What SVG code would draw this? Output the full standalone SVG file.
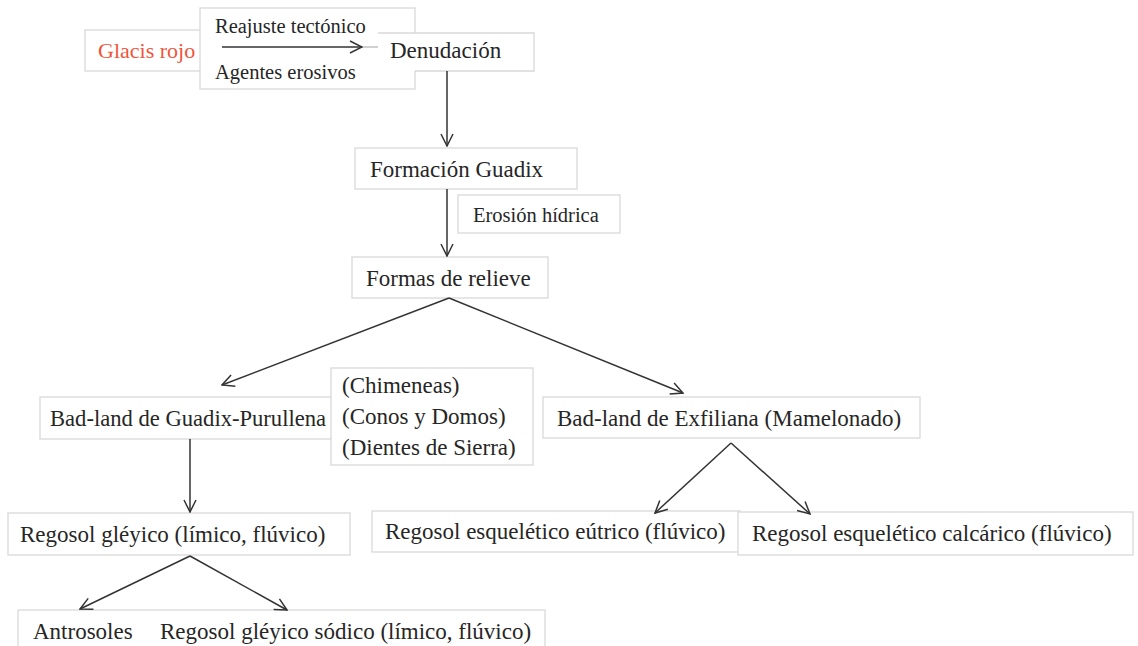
<svg xmlns="http://www.w3.org/2000/svg" width="1138" height="646" viewBox="0 0 1138 646">
<defs>
<style>
.box{fill:#fff;stroke:#d9d9d9;stroke-width:1.3}
.edge{fill:none;stroke:#d9d9d9;stroke-width:1.3}
.t{font-family:"Liberation Serif","Times New Roman",serif;font-size:23px;fill:#262626}
.s{font-family:"Liberation Serif","Times New Roman",serif;font-size:20.5px;fill:#262626}
.red{fill:#f0543a;font-size:22px}
.c{stroke:#333;stroke-width:1.5;fill:none;marker-end:url(#ah)}
</style>
<marker id="ah" viewBox="0 0 14 14" refX="13" refY="7" markerWidth="14" markerHeight="14" markerUnits="userSpaceOnUse" orient="auto">
<path d="M1,1 L13,7 L1,13" fill="none" stroke="#333" stroke-width="1.5"/>
</marker>
</defs>
<rect width="1138" height="646" fill="#fff"/>

<g id="glacis">
<rect class="box" x="85" y="30" width="130" height="41"/>
<text class="t red" x="98" y="58">Glacis rojo</text>
</g>
<g id="agentes">
<rect class="box" x="200" y="8" width="215" height="81"/>
<text class="s" x="215" y="33">Reajuste tectónico</text>
<text class="s" x="215" y="79">Agentes erosivos</text>
</g>
<g id="denudacion">
<rect x="378" y="33" width="156" height="38" fill="#fff"/>
<path class="edge" d="M378,33 H534 V71 H415"/>
<text class="t" x="390" y="58">Denudación</text>
</g>
<g id="formacion">
<rect class="box" x="355" y="148" width="222" height="41"/>
<text class="t" x="370" y="177">Formación Guadix</text>
</g>
<g id="erosion">
<rect class="box" x="458" y="195" width="162" height="38"/>
<text class="s" x="473" y="222">Erosión hídrica</text>
</g>
<g id="formas">
<rect class="box" x="352" y="257" width="196" height="41"/>
<text class="t" x="366" y="286">Formas de relieve</text>
</g>
<g id="badland-guadix">
<rect class="box" x="40" y="397" width="300" height="42"/>
<text class="t" x="50" y="426" style="font-size:22.6px">Bad-land de Guadix-Purullena</text>
</g>
<g id="formas-guadix">
<rect class="box" x="331" y="368" width="202" height="97"/>
<text class="t" x="342" y="393">(Chimeneas)</text>
<text class="t" x="342" y="424">(Conos y Domos)</text>
<text class="t" x="342" y="455">(Dientes de Sierra)</text>
</g>
<g id="badland-exfiliana">
<rect class="box" x="543" y="397" width="377" height="41"/>
<text class="t" x="557" y="426">Bad-land de Exfiliana  (Mamelonado)</text>
</g>
<g id="regosol-gleyico">
<rect class="box" x="8" y="513" width="342" height="42"/>
<text class="t" x="20" y="542">Regosol gléyico (límico,  flúvico)</text>
</g>
<g id="regosol-eutrico">
<rect class="box" x="372" y="511" width="368" height="41"/>
<text class="t" x="385" y="539">Regosol esquelético eútrico (flúvico)</text>
</g>
<g id="regosol-calcarico">
<rect class="box" x="738" y="512" width="395" height="43"/>
<text class="t" x="752" y="541">Regosol esquelético calcárico  (flúvico)</text>
</g>
<g id="bottom">
<rect class="box" x="18" y="610" width="527" height="50"/>
<text class="t" x="33" y="639">Antrosoles</text>
<text class="t" x="160" y="639">Regosol gléyico sódico (límico, flúvico)</text>
</g>

<g id="connectors">
<line x1="362" y1="47" x2="378" y2="47" stroke="#d0d0d0" stroke-width="2"/>
<line class="c" x1="222" y1="47" x2="362" y2="47"/>
<line class="c" x1="447" y1="71" x2="447" y2="146"/>
<line class="c" x1="447" y1="189" x2="447" y2="256"/>
<line class="c" x1="449" y1="298" x2="222" y2="385"/>
<line class="c" x1="449" y1="298" x2="683" y2="393"/>
<line class="c" x1="190" y1="439" x2="190" y2="512"/>
<line class="c" x1="731" y1="443" x2="655" y2="513"/>
<line class="c" x1="731" y1="443" x2="810" y2="514"/>
<line class="c" x1="190" y1="556" x2="80" y2="609"/>
<line class="c" x1="190" y1="556" x2="287" y2="610"/>
</g>
</svg>
